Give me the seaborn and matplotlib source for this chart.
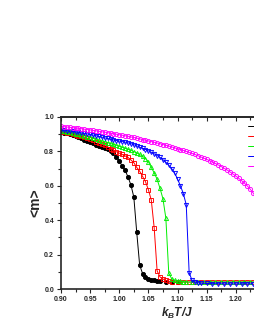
import pandas as pd
import seaborn as sns
import matplotlib.pyplot as plt
from matplotlib.ticker import MultipleLocator, FixedLocator, FormatStrFormatter

# Temperature grids and magnetisation values
t_black = [0.900, 0.905, 0.910, 0.915, 0.920, 0.925, 0.930, 0.935, 0.940, 0.945,
           0.950, 0.955, 0.960, 0.965, 0.970, 0.975, 0.980, 0.985, 0.990, 0.995,
           1.000, 1.005, 1.010, 1.015, 1.020, 1.025, 1.030, 1.035, 1.040, 1.045,
           1.050, 1.055, 1.060, 1.065, 1.070, 1.080, 1.090, 1.100]
m_black = [0.912, 0.909, 0.905, 0.900, 0.895, 0.889, 0.883, 0.876, 0.869, 0.861,
           0.853, 0.846, 0.840, 0.833, 0.826, 0.819, 0.813, 0.805, 0.790, 0.770,
           0.745, 0.715, 0.690, 0.652, 0.605, 0.535, 0.330, 0.140, 0.090, 0.070,
           0.060, 0.055, 0.050, 0.047, 0.045, 0.042, 0.040, 0.039]

t_red = [0.900, 0.905, 0.910, 0.915, 0.920, 0.925, 0.930, 0.935, 0.940, 0.945,
         0.950, 0.955, 0.960, 0.965, 0.970, 0.975, 0.980, 0.985, 0.990, 0.995,
         1.000, 1.005, 1.010, 1.015, 1.020, 1.025, 1.030, 1.035, 1.040, 1.045,
         1.050, 1.055, 1.060, 1.065, 1.070, 1.075, 1.080, 1.085, 1.090, 1.100,
         1.110, 1.120, 1.130, 1.140, 1.150, 1.160, 1.170, 1.180, 1.190, 1.200,
         1.210, 1.220, 1.230]
m_red = [0.915, 0.912, 0.909, 0.905, 0.901, 0.897, 0.892, 0.887, 0.882, 0.876,
         0.870, 0.864, 0.857, 0.850, 0.843, 0.835, 0.826, 0.816, 0.806, 0.798,
         0.790, 0.782, 0.774, 0.765, 0.750, 0.735, 0.707, 0.685, 0.655, 0.624,
         0.578, 0.517, 0.355, 0.105, 0.070, 0.058, 0.050, 0.045, 0.043, 0.041,
         0.040, 0.040, 0.040, 0.040, 0.040, 0.040, 0.040, 0.040, 0.040, 0.040,
         0.040, 0.040, 0.040]

t_green = [0.900, 0.905, 0.910, 0.915, 0.920, 0.925, 0.930, 0.935, 0.940, 0.945,
           0.950, 0.955, 0.960, 0.965, 0.970, 0.975, 0.980, 0.985, 0.990, 0.995,
           1.000, 1.005, 1.010, 1.015, 1.020, 1.025, 1.030, 1.035, 1.040, 1.045,
           1.050, 1.055, 1.060, 1.065, 1.070, 1.075, 1.080, 1.085, 1.090, 1.095,
           1.100, 1.105, 1.110, 1.115, 1.125, 1.135, 1.145, 1.155, 1.165, 1.175,
           1.185, 1.195, 1.205, 1.215, 1.225, 1.235]
m_green = [0.920, 0.917, 0.914, 0.911, 0.907, 0.903, 0.899, 0.895, 0.891, 0.886,
           0.881, 0.876, 0.871, 0.866, 0.861, 0.856, 0.851, 0.846, 0.841, 0.836,
           0.830, 0.824, 0.818, 0.812, 0.806, 0.799, 0.791, 0.782, 0.772, 0.758,
           0.740, 0.707, 0.675, 0.638, 0.585, 0.525, 0.412, 0.092, 0.060, 0.050,
           0.046, 0.044, 0.042, 0.041, 0.041, 0.041, 0.041, 0.041, 0.041, 0.041,
           0.041, 0.041, 0.041, 0.041, 0.041, 0.041]

t_blue = [0.900, 0.905, 0.910, 0.915, 0.920, 0.925, 0.930, 0.935, 0.940, 0.945,
          0.950, 0.955, 0.960, 0.965, 0.970, 0.975, 0.980, 0.985, 0.990, 0.995,
          1.000, 1.005, 1.010, 1.015, 1.020, 1.025, 1.030, 1.035, 1.040, 1.045,
          1.050, 1.055, 1.060, 1.065, 1.070, 1.075, 1.080, 1.085, 1.090, 1.095,
          1.100, 1.105, 1.110, 1.115, 1.120, 1.125, 1.130, 1.135, 1.140, 1.150,
          1.160, 1.170, 1.180, 1.190, 1.200, 1.210, 1.220, 1.230]
m_blue = [0.925, 0.923, 0.921, 0.919, 0.917, 0.914, 0.911, 0.908, 0.905, 0.902,
          0.899, 0.895, 0.891, 0.887, 0.883, 0.879, 0.875, 0.871, 0.867, 0.863,
          0.860, 0.857, 0.854, 0.850, 0.845, 0.839, 0.832, 0.825, 0.818, 0.811,
          0.803, 0.795, 0.786, 0.776, 0.765, 0.752, 0.737, 0.720, 0.700, 0.675,
          0.640, 0.600, 0.555, 0.490, 0.095, 0.050, 0.040, 0.036, 0.034, 0.032,
          0.031, 0.031, 0.030, 0.030, 0.030, 0.030, 0.030, 0.030]

t_magenta = [0.900, 0.905, 0.910, 0.915, 0.920, 0.925, 0.930, 0.935, 0.940, 0.945,
             0.950, 0.955, 0.960, 0.965, 0.970, 0.975, 0.980, 0.985, 0.990, 0.995,
             1.000, 1.005, 1.010, 1.015, 1.020, 1.025, 1.030, 1.035, 1.040, 1.045,
             1.050, 1.055, 1.060, 1.065, 1.070, 1.075, 1.080, 1.085, 1.090, 1.095,
             1.100, 1.105, 1.110, 1.115, 1.120, 1.125, 1.130, 1.135, 1.140, 1.145,
             1.150, 1.155, 1.160, 1.165, 1.170, 1.175, 1.180, 1.185, 1.190, 1.195,
             1.200, 1.205, 1.210, 1.215, 1.220, 1.225, 1.230, 1.235]
m_magenta = [0.946, 0.944, 0.942, 0.940, 0.938, 0.936, 0.934, 0.932, 0.929, 0.927,
             0.925, 0.922, 0.920, 0.917, 0.914, 0.912, 0.909, 0.906, 0.903, 0.900,
             0.897, 0.894, 0.891, 0.888, 0.884, 0.881, 0.877, 0.873, 0.869, 0.865,
             0.861, 0.857, 0.853, 0.849, 0.845, 0.840, 0.836, 0.831, 0.826, 0.821,
             0.816, 0.811, 0.806, 0.800, 0.794, 0.788, 0.782, 0.775, 0.768, 0.761,
             0.754, 0.746, 0.738, 0.730, 0.721, 0.712, 0.702, 0.692, 0.681, 0.669,
             0.657, 0.644, 0.630, 0.615, 0.598, 0.580, 0.558, 0.532]

x_ticks = [0.90, 0.95, 1.00, 1.05, 1.10, 1.15, 1.20]

series = [
    ("L=8", t_black, m_black, "black", "o", "black"),
    ("L=16", t_red, m_red, "red", "s", "none"),
    ("L=24", t_green, m_green, "#00ee00", "^", "none"),
    ("L=32", t_blue, m_blue, "blue", "v", "none"),
    ("L=64", t_magenta, m_magenta, "magenta", "o", "none"),
]

sns.set_style("ticks")
plt.rcParams["font.family"] = ["Liberation Sans", "DejaVu Sans"]
plt.rcParams["mathtext.fontset"] = "custom"
plt.rcParams["mathtext.it"] = "Liberation Sans:bold:italic"
plt.rcParams["mathtext.rm"] = "Liberation Sans:bold"

fig = plt.figure(figsize=(2.55, 3.3), dpi=100)
# axes run past the right edge of the picture, as in the reference
ax = fig.add_axes([61 / 255, 41 / 330, 233 / 255, 172 / 330])

for label, t, m, color, marker, face in series:
    df = pd.DataFrame({"T": t, "m": m})
    sns.lineplot(data=df, x="T", y="m", ax=ax, color=color, marker=marker,
                 markerfacecolor=face, markeredgecolor=color, markersize=3.0,
                 markeredgewidth=0.65, linewidth=0.7, label=label, sort=False,
                 errorbar=None)

ax.set_xlim(0.90, 1.30)
ax.set_ylim(0.0, 1.0)
ax.xaxis.set_major_locator(FixedLocator(x_ticks))
ax.xaxis.set_minor_locator(MultipleLocator(0.025))
ax.yaxis.set_major_locator(MultipleLocator(0.2))
ax.yaxis.set_minor_locator(MultipleLocator(0.1))
ax.xaxis.set_major_formatter(FormatStrFormatter("%.2f"))
ax.yaxis.set_major_formatter(FormatStrFormatter("%.1f"))

for s in ax.spines.values():
    s.set_linewidth(1.2)
ax.tick_params(which="both", direction="out", width=0.8)
ax.tick_params(which="major", length=3, labelsize=5, pad=2)
ax.tick_params(which="minor", length=2)
for lab in ax.get_xticklabels() + ax.get_yticklabels():
    lab.set_fontweight("bold")

# inward ticks along the top edge
top = ax.secondary_xaxis("top")
top.xaxis.set_major_locator(FixedLocator(x_ticks))
top.xaxis.set_minor_locator(MultipleLocator(0.025))
top.tick_params(which="both", direction="in", width=0.8, labeltop=False)
top.tick_params(which="major", length=3)
top.tick_params(which="minor", length=2)
top.spines["top"].set_linewidth(1.2)

ax.set_xlabel("$k_B$T/J", fontsize=8.5, fontweight="bold", fontstyle="italic", labelpad=2)
ax.set_ylabel("<m>", fontsize=10, fontweight="bold", labelpad=1)

ax.legend(loc="upper left", bbox_to_anchor=(248 / 255, 1 - 124 / 330),
          bbox_transform=fig.transFigure, frameon=False, fontsize=4,
          handlelength=4.5, borderpad=0, borderaxespad=0, labelspacing=0.9)

fig.savefig("out.png", dpi=100)
